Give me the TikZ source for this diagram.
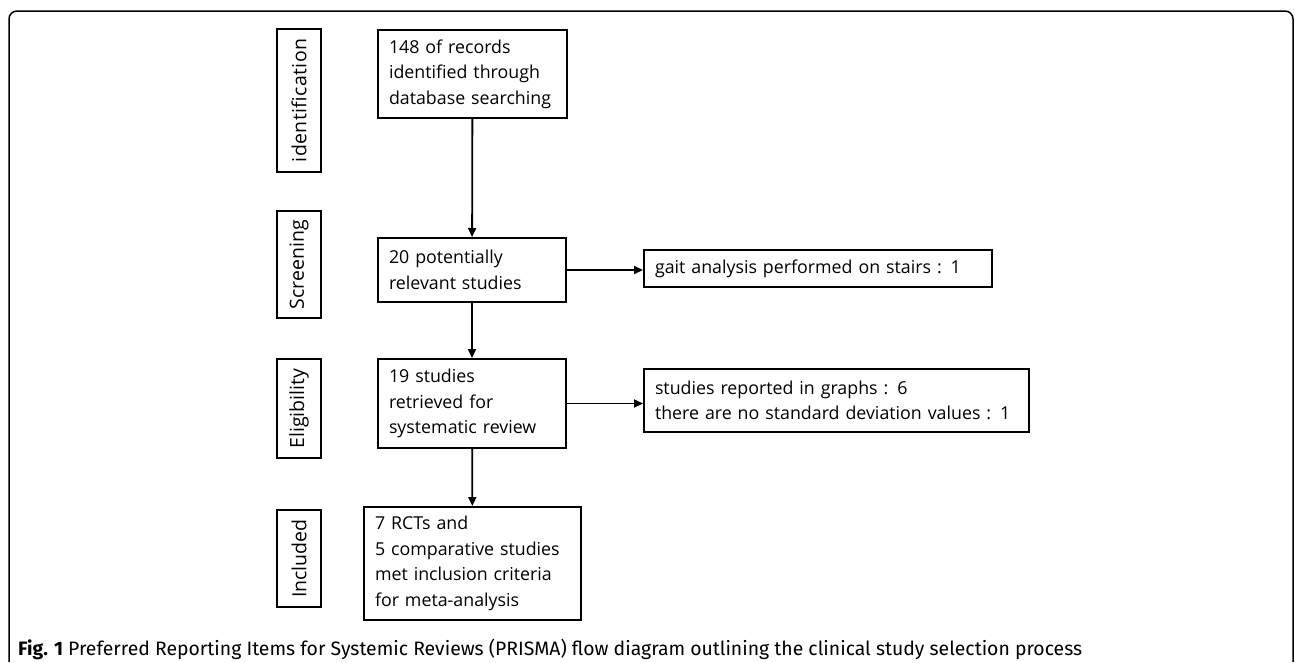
\documentclass[tikz,border=0pt]{standalone}
\usepackage{fontspec}
\setmainfont{Open Sans}
\newfontfamily\capfont{Fira Sans}
\usetikzlibrary{arrows.meta}

\begin{document}
\begin{tikzpicture}[x=1pt,y=-1pt,
	flowbox/.style={draw,line width=2pt,anchor=north west,align=left,inner xsep=11pt,
		font=\fontsize{17.8}{25.5}\selectfont},
	stagebox/.style={draw,line width=2pt,rotate=90,minimum height=44,inner sep=0pt,
		font=\fontsize{19.5}{20}\selectfont},
	flowarrow/.style={line width=1.8pt,-{Triangle[length=9pt,width=8pt]}}]
	\useasboundingbox (0,0) rectangle (1295,662);
	% outer frame
	\draw[line width=1.5pt,rounded corners=8pt] (9,662) -- (9,11) -- (1293,11) -- (1293,662);

	% stage labels
	\node[stagebox,minimum width=143] (sident) at (299,100.5) {\addfontfeatures{LetterSpace=2}identification};
	\node[stagebox,minimum width=107] (sscreen) at (299,264.5) {Screening};
	\node[stagebox,minimum width=99] (selig) at (299,408.5) {Eligibility};
	\node[stagebox,minimum width=97] (sincl) at (299,558.5) {Included};

	% main flow
	\node[flowbox,minimum width=189,minimum height=88,text width=167] (records) at (377,29)
		{148 of records\\identified through\\database searching};
	\node[flowbox,minimum width=188,minimum height=64,text width=166] (relevant) at (377,237)
		{20 potentially\\relevant studies};
	\node[flowbox,minimum width=188,minimum height=89,text width=166] (retrieved) at (377,358)
		{19 studies\\retrieved for\\systematic review};
	\node[flowbox,minimum width=217,minimum height=113,text width=195] (included) at (363,506)
		{7 RCTs and\\5 comparative studies\\met inclusion criteria\\for meta-analysis};

	% excluded
	\node[flowbox,minimum width=348,minimum height=37,text width=326] (stairs) at (643,249)
		{gait analysis performed on stairs : 1};
	\node[flowbox,minimum width=385,minimum height=63,text width=363] (graphs) at (643,368)
		{studies reported in graphs : 6\\there are no standard deviation values : 1};

	\draw[flowarrow] (records) -- (relevant);
	\draw[flowarrow] (relevant) -- (retrieved);
	\draw[flowarrow] (retrieved) -- (included);
	\draw[flowarrow] (relevant.east) -- (relevant.east -| stairs.west);
	\draw[flowarrow] (retrieved.east) -- (retrieved.east -| graphs.west);

	% caption
	\node[anchor=base west,inner sep=0pt,font=\capfont\fontsize{19.4}{21}\selectfont] (caption) at (18,655)
		{\textbf{Fig. 1} Preferred Reporting Items for Systemic Reviews (PRISMA) flow diagram outlining the clinical study selection process};
\end{tikzpicture}
\end{document}
